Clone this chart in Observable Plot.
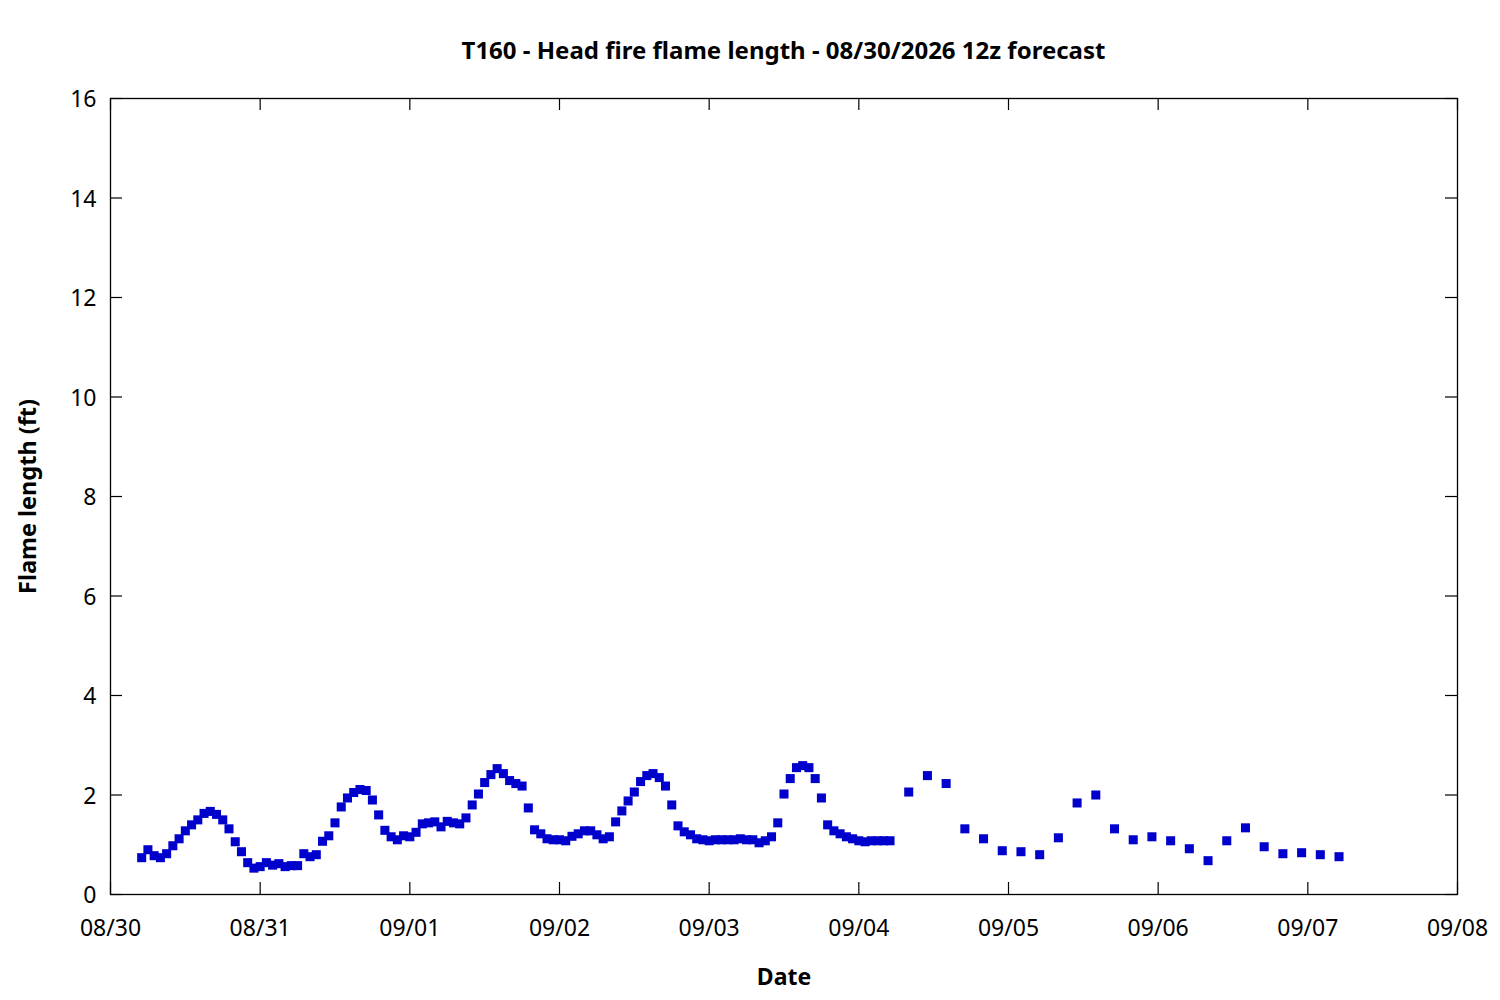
<!DOCTYPE html>
<html>
<head>
<meta charset="utf-8">
<script src="https://cdn.jsdelivr.net/npm/d3@7"></script>
<script src="https://cdn.jsdelivr.net/npm/@observablehq/plot@0.6"></script>
<style>
  html, body { margin: 0; padding: 0; background: #fff; }
  #title {
    box-sizing: border-box;
    width: 1500px; height: 80px;
    padding: 36px 43px 16px 110px;
    line-height: 28px;
    text-align: center;
    font-family: "Noto Sans", sans-serif;
    font-weight: bold;
    font-size: 24px;
    color: #000;
  }
</style>
</head>
<body>
<div id="title"></div>
<div id="chart"></div>
<script>
const titleText = "T160 - Head fire flame length - 08/30/2026 12z forecast";
const xLabel = "Date";
const yLabel = "Flame length (ft)";

// forecast start (08/30/2026 00h) and x-axis domain end
const startDate = new Date(Date.UTC(2026, 7, 30));
const endDate = new Date(Date.UTC(2026, 8, 8));

// Hourly values, 08/30 05h through 09/04 05h
const hourlyStartHour = 5;
const hourlyValues = [
  0.74, 0.90, 0.78, 0.74, 0.82, 0.98, 1.12, 1.28, 1.40, 1.50,
  1.63, 1.67, 1.61, 1.50, 1.32, 1.06, 0.86, 0.64, 0.53, 0.56,
  0.64, 0.59, 0.62, 0.56, 0.58, 0.58, 0.82, 0.76, 0.80, 1.07,
  1.18, 1.44, 1.76, 1.94, 2.05, 2.11, 2.09, 1.90, 1.60, 1.29,
  1.16, 1.10, 1.18, 1.16, 1.25, 1.42, 1.44, 1.46, 1.36, 1.47,
  1.44, 1.42, 1.54, 1.80, 2.02, 2.25, 2.41, 2.53, 2.43, 2.29,
  2.23, 2.18, 1.74, 1.30, 1.22, 1.12, 1.10, 1.10, 1.08, 1.17,
  1.22, 1.28, 1.28, 1.20, 1.12, 1.16, 1.46, 1.68, 1.88, 2.06,
  2.27, 2.39, 2.43, 2.35, 2.18, 1.80, 1.38, 1.26, 1.20, 1.12,
  1.10, 1.08, 1.10, 1.10, 1.10, 1.10, 1.12, 1.10, 1.10, 1.04,
  1.08, 1.16, 1.44, 2.02, 2.33, 2.55, 2.59, 2.55, 2.33, 1.94,
  1.40, 1.28, 1.22, 1.16, 1.12, 1.08, 1.06, 1.08, 1.08, 1.08,
  1.08
];

// 3-hourly values, 09/04 08h through 09/07 05h
const threeHourlyStartHour = 128;
const threeHourlyValues = [
  2.06, 2.39, 2.23, 1.32, 1.12, 0.88, 0.86, 0.80, 1.14, 1.84,
  2.00, 1.32, 1.10, 1.16, 1.08, 0.92, 0.68, 1.08, 1.34, 0.96,
  0.82, 0.84, 0.80, 0.76
];

const xTickDays = [0, 1, 2, 3, 4, 5, 6, 7, 8, 9];
const yTicks = [0, 2, 4, 6, 8, 10, 12, 14, 16];

const H = 3600e3;
const points = [
  ...hourlyValues.map((v, i) => ({date: new Date(+startDate + (hourlyStartHour + i) * H), value: v})),
  ...threeHourlyValues.map((v, i) => ({date: new Date(+startDate + (threeHourlyStartHour + 3 * i) * H), value: v}))
];
const xTicks = xTickDays.map(d => new Date(+startDate + d * 24 * H));

const W = 1500, SVGH = 920;
const mL = 110, mR = 43, mT = 18, mB = 106;
const fw = W - mL - mR, fh = SVGH - mT - mB;
const tickLen = 12;

document.getElementById("title").textContent = titleText;

const chart = Plot.plot({
  width: W,
  height: SVGH,
  marginLeft: mL, marginRight: mR, marginTop: mT, marginBottom: mB,
  style: {fontFamily: "Noto Sans", fontSize: "23px", color: "#000", background: "#fff"},
  x: {type: "utc", domain: [startDate, endDate], label: null},
  y: {domain: [0, 16], label: null},
  marks: [
    Plot.ruleX(xTicks, {x: d => d, insetTop: fh - tickLen, stroke: "#000", strokeWidth: 1.2}),
    Plot.ruleX(xTicks, {x: d => d, insetBottom: fh - tickLen, stroke: "#000", strokeWidth: 1.2}),
    Plot.ruleY(yTicks, {y: d => d, insetRight: fw - tickLen, stroke: "#000", strokeWidth: 1.2}),
    Plot.ruleY(yTicks, {y: d => d, insetLeft: fw - tickLen, stroke: "#000", strokeWidth: 1.2}),
    Plot.frame({stroke: "#000", strokeWidth: 1.3}),
    Plot.axisX(xTicks, {tickSize: 0, tickPadding: 25, tickFormat: d3.utcFormat("%m/%d"), label: null, fontSize: 23}),
    Plot.axisY(yTicks, {tickSize: 0, tickPadding: 14, dy: 1.5, tickFormat: d => String(d), label: null, fontSize: 23}),
    Plot.dot(points, {x: "date", y: "value", symbol: "square", r: 5.1, fill: "#0000cc", stroke: null}),
    Plot.text([xLabel], {frameAnchor: "bottom", lineAnchor: "middle", textAnchor: "middle", dy: 83, fontWeight: "bold", fontSize: 23, text: d => d}),
    Plot.text([yLabel], {frameAnchor: "left", lineAnchor: "middle", textAnchor: "middle", dx: -82, rotate: -90, fontWeight: "bold", fontSize: 23.5, text: d => d})
  ]
});
document.getElementById("chart").appendChild(chart);
</script>
</body>
</html>
